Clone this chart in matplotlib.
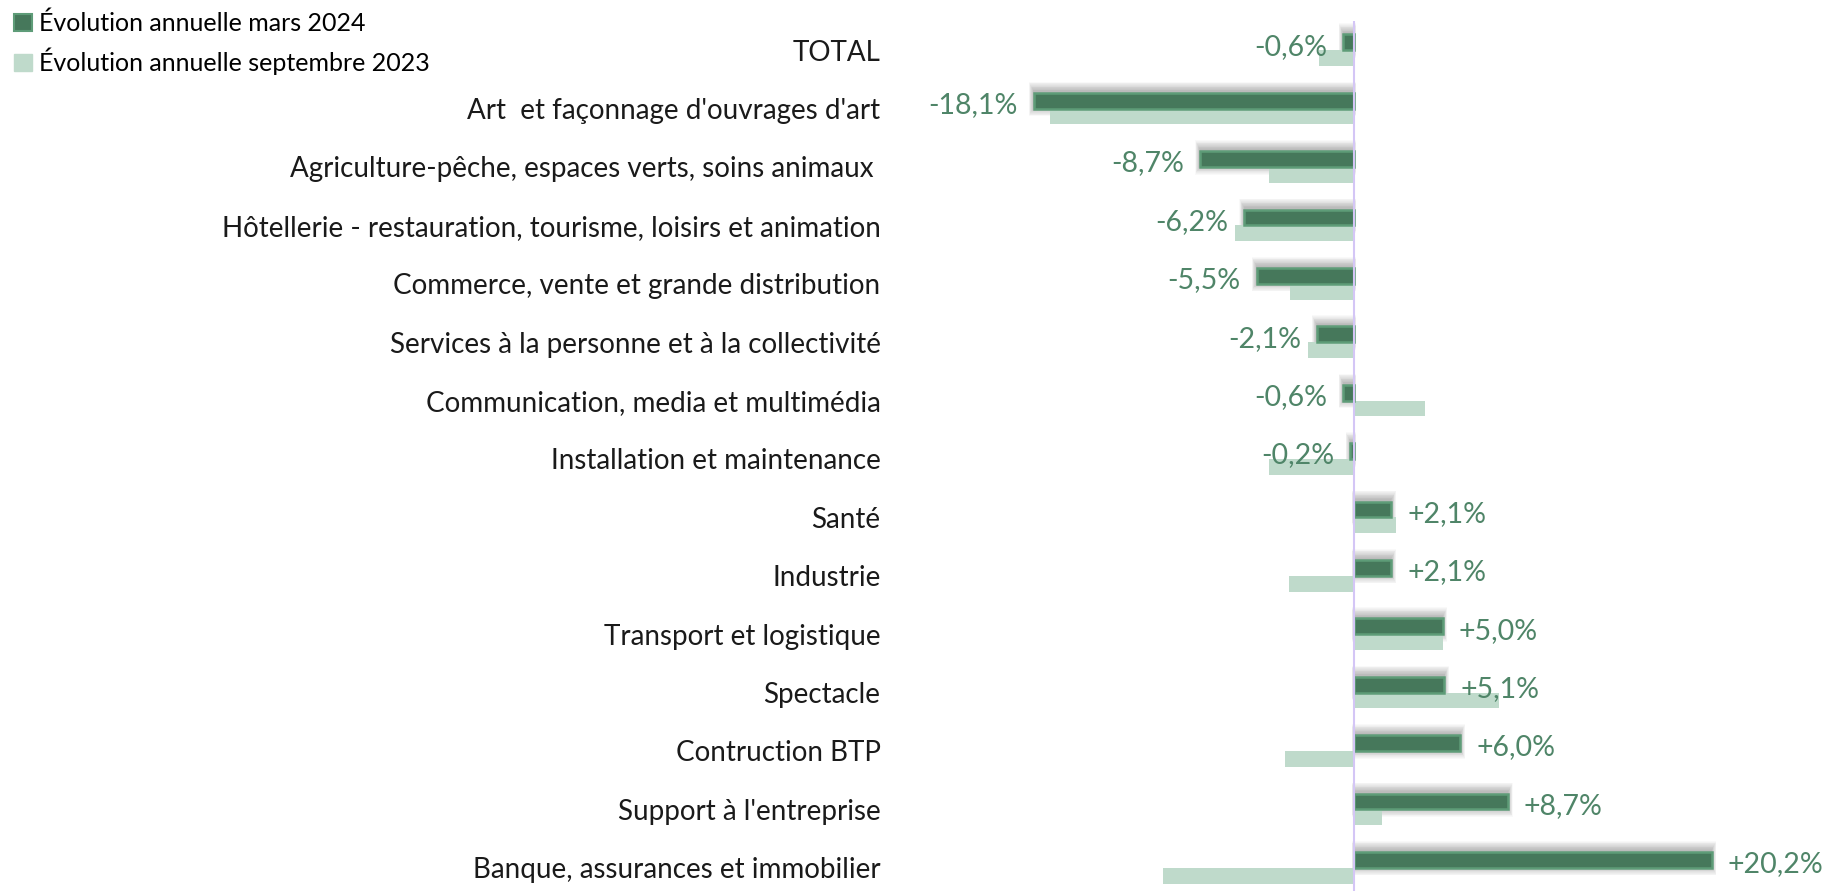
import numpy as np
import matplotlib
matplotlib.use("Agg")
from matplotlib import pyplot as plt
from matplotlib.patches import Patch

categories = ["TOTAL", "Art  et façonnage d'ouvrages d'art",
              "Agriculture-pêche, espaces verts, soins animaux ",
              "Hôtellerie - restauration, tourisme, loisirs et animation",
              "Commerce, vente et grande distribution",
              "Services à la personne et à la collectivité",
              "Communication, media et multimédia",
              "Installation et maintenance", "Santé", "Industrie",
              "Transport et logistique", "Spectacle", "Contruction BTP",
              "Support à l'entreprise", "Banque, assurances et immobilier"]
mars_2024 = [-0.6, -18.1, -8.7, -6.2, -5.5, -2.1, -0.6, -0.2,
             2.1, 2.1, 5.0, 5.1, 6.0, 8.7, 20.2]
sept_2023 = [-2.0, -17.2, -4.8, -6.7, -3.6, -2.6, 4.0, -4.8,
             2.4, -3.7, 5.0, 8.2, -3.9, 1.6, -10.8]
labels = ["-0,6%", "-18,1%", "-8,7%", "-6,2%", "-5,5%", "-2,1%", "-0,6%", "-0,2%",
          "+2,1%", "+2,1%", "+5,0%", "+5,1%", "+6,0%", "+8,7%", "+20,2%"]

dark = "#46785B"
dark_edge = "#5E9C78"
light = "#BFDACB"
txt_green = "#4F8568"

W, H = 1839, 891
fig = plt.figure(figsize=(W / 100, H / 100), dpi=100)
ax_left, ax_right = 900, 1839
ax_top = 21
ax = fig.add_axes([ax_left / W, 0, (ax_right - ax_left) / W, (H - ax_top) / H])

zero_px, px_per = 1354, 17.7
ax.set_xlim((ax_left - zero_px) / px_per, (ax_right - zero_px) / px_per)
row_px = 58.4
ax.set_ylim(-0.5 + (H - ax_top) / row_px, -0.5)

y = np.arange(len(categories))
h = 0.27

# soft shadow behind dark bars
xs = np.array(mars_2024)
for k in np.linspace(0.01, 0.16, 12):
    ax.barh(y - h / 2 - 0.03, xs + np.sign(xs) * k * 2.5, height=h + 2 * k,
            left=-np.sign(xs) * k * 0.8, color="#000000", alpha=0.022,
            linewidth=0, zorder=1)

ax.barh(y + h / 2, sept_2023, height=h, color=light, linewidth=0, zorder=2)
ax.barh(y - h / 2, mars_2024, height=h, color=dark, edgecolor=dark_edge,
        linewidth=1.8, zorder=3)

ax.axvline(0, color="#D4C6F6", linewidth=1.5, zorder=4)

off = 16 / px_per
for yi, v, lab in zip(y, mars_2024, labels):
    if v < 0:
        ax.text(v - off, yi - 0.06, lab, ha="right", va="center", fontsize=20.5,
                color=txt_green, family="Lato", zorder=5)
    else:
        ax.text(v + off, yi - 0.06, lab, ha="left", va="center", fontsize=20.5,
                color=txt_green, family="Lato", zorder=5)

ax.set_yticks(y)
ax.set_yticklabels(categories, fontsize=20, color="#1a1a1a", family="Lato")
ax.tick_params(axis="y", length=0, pad=14)
ax.set_xticks([])
for s in ax.spines.values():
    s.set_visible(False)

handles = [Patch(facecolor=dark, edgecolor=dark_edge, linewidth=1.5),
           Patch(facecolor=light, edgecolor=light)]
fig.legend(handles, ["Évolution annuelle mars 2024", "Évolution annuelle septembre 2023"],
           loc="upper left", bbox_to_anchor=(-0.0045, 1.012), frameon=False,
           handlelength=0.7, handleheight=0.7, handletextpad=0.3,
           labelspacing=0.5, prop={"family": "Lato", "size": 18})

fig.savefig("out.png", dpi=100)
